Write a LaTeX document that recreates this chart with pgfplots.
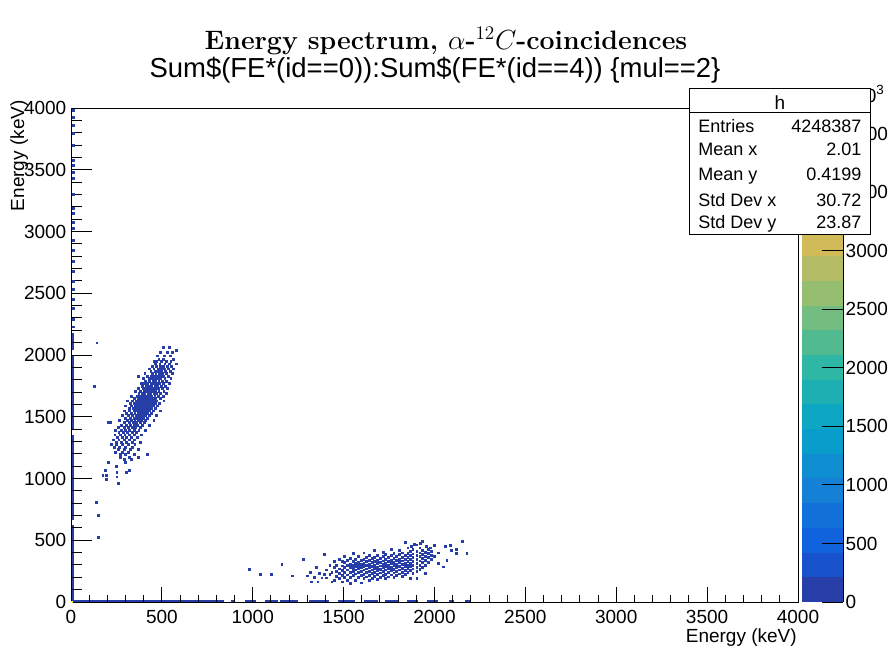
\documentclass[border=0pt]{standalone}
\usepackage{fontspec}
\usepackage{pgfplots}
\pgfplotsset{compat=1.18}
\newfontfamily\arial{Liberation Sans}
\definecolor{b0}{rgb}{0.152,0.240,0.658}
\definecolor{b1}{rgb}{0.091,0.319,0.796}
\definecolor{b2}{rgb}{0.063,0.388,0.863}
\definecolor{b3}{rgb}{0.070,0.443,0.851}
\definecolor{b4}{rgb}{0.078,0.502,0.839}
\definecolor{b5}{rgb}{0.056,0.558,0.820}
\definecolor{b6}{rgb}{0.034,0.615,0.801}
\definecolor{b7}{rgb}{0.052,0.656,0.764}
\definecolor{b8}{rgb}{0.116,0.687,0.703}
\definecolor{b9}{rgb}{0.180,0.718,0.643}
\definecolor{b10}{rgb}{0.323,0.731,0.570}
\definecolor{b11}{rgb}{0.456,0.743,0.504}
\definecolor{b12}{rgb}{0.587,0.746,0.443}
\definecolor{b13}{rgb}{0.705,0.739,0.396}
\definecolor{b14}{rgb}{0.821,0.734,0.348}
\definecolor{b15}{rgb}{0.888,0.754,0.290}
\definecolor{b16}{rgb}{0.961,0.776,0.227}
\definecolor{b17}{rgb}{0.992,0.828,0.166}
\definecolor{b18}{rgb}{0.984,0.909,0.108}
\definecolor{b19}{rgb}{0.976,0.983,0.054}
\newcommand{\lab}{\arial\fontsize{14.25}{17}\selectfont}
\newcommand{\stat}{\arial\fontsize{13.5}{16}\selectfont}
\pgfplotsset{dots/.style={only marks, mark=square*, color=b0, mark size=0.7pt, mark options={line width=0.2pt}}}
\begin{document}
\begin{tikzpicture}
\path[use as bounding box] (0,0) rectangle (669pt,487.5pt);
% main axis
\begin{axis}[
  at={(53.25pt,36pt)}, anchor=south west, scale only axis,
  width=545.25pt, height=370.5pt,
  xmin=0, xmax=4000, ymin=0, ymax=4000,
  xtick={0,500,...,4000}, ytick={0,500,...,4000},
  minor x tick num=4, minor y tick num=4,
  tick align=inside, tick pos=left,
  xtick style={/pgfplots/major tick length=11.25pt, /pgfplots/minor tick length=5.6pt, line width=0.75pt, black},
  ytick style={/pgfplots/major tick length=15.75pt, /pgfplots/minor tick length=7.9pt, line width=0.75pt, black},
  axis line style={line width=0.75pt},
  scaled ticks=false,
  tick label style={font=\lab},
  xticklabel style={yshift=-2.4pt},
  /pgf/number format/assume math mode=true,
  /pgf/number format/1000 sep={},
  axis on top,
]
% strip along the y axis (bins at E_x = 0)
\addplot[b0, line width=1.5pt, unbounded coords=jump] coordinates {
 (12,15)(12,620) (12,nan) (12,660)(12,1350) (12,nan) (12,1390)(12,2000) (12,nan) (12,2040)(12,2180)};
\addplot[dots] coordinates {
 (12,2230)(12,2290)(12,2380)(12,2450)(12,2530)(12,2600)(12,2680)(12,2760)(12,2850)(12,2930)
 (12,3028)(12,3077)(12,3150)(12,3190)(12,3300)(12,3433)(12,3482)(12,3538)(12,3579)(12,3700)
 (12,3798)(12,3862)(12,3927)(12,3984)};
% strip along the x axis (bins at E_y = 0)
\addplot[b0, line width=1.5pt, unbounded coords=jump] coordinates {
 (5,12)(840,12) (nan,12) (880,12)(900,12) (nan,12) (960,12)(1020,12) (nan,12) (1070,12)(1140,12) (nan,12)
 (1150,12)(1250,12) (nan,12) (1310,12)(1420,12) (nan,12) (1470,12)(1560,12) (nan,12) (1610,12)(1690,12) (nan,12)
 (1730,12)(1800,12) (nan,12) (1850,12)(1910,12) (nan,12) (1960,12)(2020,12) (nan,12) (2080,12)(2110,12) (nan,12) (2170,12)(2195,12)};
% cluster 1
\addplot[dots] coordinates {
(141,2100)
(508,2065)(540,2065)
(578,2040)
(490,2020)(530,2020)(557,2020)
(475,1995)(512,1995)(545,1995)
(482,1970)(505,1970)(560,1970)
(455,1950)(470,1950)(498,1950)(525,1950)(548,1950)
(462,1930)(488,1930)(515,1930)(538,1930)(578,1930)
(445,1910)(470,1910)(492,1910)(508,1910)(530,1910)(552,1910)
(428,1890)(455,1890)(478,1890)(495,1890)(512,1890)(535,1890)(560,1890)
(438,1870)(462,1870)(480,1870)(498,1870)(520,1870)(545,1870)
(405,1850)(448,1850)(466,1850)(485,1850)(502,1850)(525,1850)(555,1850)
(367,1830)(420,1830)(440,1830)(458,1830)(472,1830)(490,1830)(508,1830)(535,1830)
(395,1810)(428,1810)(445,1810)(460,1810)(476,1810)(492,1810)(515,1810)(548,1810)
(410,1790)(432,1790)(450,1790)(466,1790)(482,1790)(500,1790)(525,1790)
(385,1770)(402,1770)(420,1770)(438,1770)(452,1770)(468,1770)(485,1770)(505,1770)(540,1770)
(128,1750)(392,1750)(412,1750)(428,1750)(444,1750)(460,1750)(476,1750)(494,1750)(520,1750)
(370,1730)(398,1730)(415,1730)(430,1730)(446,1730)(462,1730)(478,1730)(500,1730)(530,1730)
(355,1710)(380,1710)(400,1710)(418,1710)(434,1710)(450,1710)(466,1710)(482,1710)(510,1710)
(372,1690)(390,1690)(405,1690)(422,1690)(438,1690)(455,1690)(470,1690)(490,1690)(525,1690)
(330,1670)(362,1670)(380,1670)(396,1670)(412,1670)(428,1670)(444,1670)(460,1670)(478,1670)(505,1670)
(345,1650)(368,1650)(385,1650)(400,1650)(416,1650)(432,1650)(448,1650)(465,1650)(492,1650)
(310,1630)(338,1630)(358,1630)(375,1630)(390,1630)(405,1630)(420,1630)(436,1630)(452,1630)(470,1630)(510,1630)
(325,1610)(348,1610)(365,1610)(382,1610)(398,1610)(414,1610)(430,1610)(446,1610)(462,1610)(485,1610)
(300,1590)(330,1590)(352,1590)(370,1590)(386,1590)(402,1590)(418,1590)(434,1590)(452,1590)(475,1590)
(318,1570)(340,1570)(358,1570)(375,1570)(392,1570)(408,1570)(424,1570)(440,1570)(465,1570)
(290,1550)(322,1550)(345,1550)(362,1550)(380,1550)(396,1550)(412,1550)(428,1550)(450,1550)(490,1550)
(305,1530)(332,1530)(350,1530)(368,1530)(385,1530)(400,1530)(418,1530)(440,1530)
(280,1510)(315,1510)(338,1510)(356,1510)(374,1510)(390,1510)(408,1510)(430,1510)(470,1510)
(298,1490)(325,1490)(345,1490)(362,1490)(380,1490)(398,1490)(420,1490)
(265,1470)(310,1470)(330,1470)(350,1470)(368,1470)(385,1470)(410,1470)(455,1470)
(205,1455)(218,1455)(290,1455)(318,1455)(340,1455)(360,1455)(378,1455)(400,1455)
(278,1435)(305,1435)(325,1435)(345,1435)(365,1435)(392,1435)(430,1435)
(260,1415)(290,1415)(312,1415)(335,1415)(355,1415)(380,1415)
(245,1395)(275,1395)(300,1395)(322,1395)(345,1395)(372,1395)(410,1395)
(262,1375)(288,1375)(310,1375)(335,1375)(360,1375)
(240,1355)(270,1355)(295,1355)(320,1355)(348,1355)(388,1355)
(255,1335)(280,1335)(305,1335)(330,1335)(365,1335)
(232,1315)(262,1315)(290,1315)(318,1315)(345,1315)
(248,1295)(275,1295)(305,1295)(338,1295)(380,1295)
(220,1275)(248,1275)(282,1275)(315,1275)(350,1275)
(238,1255)(265,1255)(300,1255)(335,1255)
(258,1235)(290,1235)(325,1235)(370,1235)
(245,1215)(280,1215)(312,1215)
(270,1195)(300,1195)(345,1195)(420,1195)
(270,1175)(318,1175)(370,1175)
(290,1155)(330,1155)
(300,1130)(204,1134)
(248,1100)
(320,1065)(190,1065)
(251,1050)(301,1050)
(174,1025)(191,1025)
(251,1015)
(191,995)
(260,960)
(139,812)(150,704)(150,524)
};
% cluster 2
\addplot[dots] coordinates {
(979,267)(1040,224)(1099,224)(1159,305)(1218,213)(1278,346)(1300,213)(1317,245)(1319,165)(1339,200)(1348,283)(1357,165)(1366,232)(1379,197)
(1394,224)(1394,386)(1405,197)(1405,262)(1423,224)(1423,300)(1434,245)(1434,165)
(1447,180)(1447,280)(1447,330)
(1460,210)(1460,250)(1460,300)
(1475,190)(1475,232)(1475,270)(1475,345)
(1490,165)(1490,215)(1490,255)(1490,295)(1490,330)
(1505,200)(1505,240)(1505,280)(1505,320)(1505,370)
(1520,180)(1520,222)(1520,262)(1520,300)(1520,340)
(1535,155)(1535,200)(1535,240)(1535,282)(1535,310)(1535,355)
(1550,215)(1550,250)(1550,275)(1550,300)(1550,330)(1550,395)
(1565,180)(1565,230)(1565,262)(1565,288)(1565,318)(1565,350)
(1580,200)(1580,240)(1580,272)(1580,296)(1580,325)(1580,370)
(1596,157)(1596,215)(1596,250)(1596,282)(1596,308)(1596,340)
(1610,190)(1610,228)(1610,262)(1610,290)(1610,315)(1610,350)(1610,400)
(1625,205)(1625,240)(1625,270)(1625,300)(1625,328)(1625,362)
(1640,175)(1640,220)(1640,252)(1640,282)(1640,310)(1640,340)(1640,380)
(1655,195)(1655,232)(1655,262)(1655,290)(1655,320)(1655,355)
(1670,210)(1670,245)(1670,275)(1670,300)(1670,330)(1670,365)(1670,420)
(1685,185)(1685,225)(1685,258)(1685,285)(1685,312)(1685,342)(1685,380)
(1700,200)(1700,238)(1700,268)(1700,295)(1700,322)(1700,352)
(1715,215)(1715,250)(1715,280)(1715,305)(1715,335)(1715,370)(1715,405)
(1730,190)(1730,228)(1730,262)(1730,290)(1730,318)(1730,348)(1730,385)
(1745,205)(1745,242)(1745,272)(1745,300)(1745,330)(1745,360)
(1760,222)(1760,255)(1760,285)(1760,312)(1760,342)(1760,378)(1760,430)
(1775,200)(1775,238)(1775,268)(1775,296)(1775,325)(1775,355)(1775,395)
(1790,215)(1790,250)(1790,280)(1790,308)(1790,338)(1790,370)
(1805,230)(1805,262)(1805,292)(1805,320)(1805,350)(1805,385)(1805,420)
(1820,210)(1820,245)(1820,275)(1820,305)(1820,335)(1820,365)(1820,400)
(1838,225)(1838,260)(1838,290)(1838,318)(1838,348)(1838,380)(1838,483)
(1852,240)(1852,272)(1852,302)(1852,332)(1852,362)(1852,395)(1852,440)
(1865,195)(1865,255)(1865,288)(1865,318)(1865,345)(1865,378)(1865,415)
(1880,235)(1880,270)(1880,300)(1880,330)(1880,360)(1880,392)(1880,430)
(1902,192)(1902,250)(1902,285)(1902,318)(1902,350)(1902,380)(1902,410)(1902,465)
(1918,265)(1918,300)(1918,335)(1918,368)(1918,400)(1918,440)
(1933,280)(1933,320)(1933,355)(1933,385)(1933,420)(1933,494)
(1948,232)(1948,300)(1948,340)(1948,372)(1948,405)
(1965,320)(1965,360)(1965,395)(1965,425)
(1980,345)(1980,380)(1980,412)(1975,440)
(1997,370)(1997,462)
(2019,318)(2019,400)(2049,286)(2058,453)(2067,340)(2085,462)(2091,421)(2118,427)(2118,394)(2150,494)(2177,394)
(1870,455)(1890,470)(1920,480)(1955,450)
};
% maximum bin at the origin
\addplot[only marks, mark=square*, color=b19, mark size=0.4pt] coordinates {(5,5)};
\end{axis}
% palette
\begin{axis}[
  at={(601.5pt,36pt)}, anchor=south west, scale only axis,
  width=30.75pt, height=370.5pt,
  xmin=0, xmax=1, ymin=0, ymax=4220,
  axis x line=none, axis y line*=right,
  ytick={0,500,...,4000}, minor y tick num=0,
  tick align=inside,
  major tick length=15.75pt,
  ytick style={line width=0.75pt, black},
  axis line style={line width=0.75pt},
  scaled ticks=false,
  yticklabel style={font=\lab, anchor=west, xshift=-1.5pt},
  /pgf/number format/assume math mode=true,
  /pgf/number format/1000 sep={},
  axis on top,
]
\addplot[fill=b19, draw=none] coordinates {(0,4220)(1,4220)} \closedcycle;
\addplot[fill=b18, draw=none] coordinates {(0,4009)(1,4009)} \closedcycle;
\addplot[fill=b17, draw=none] coordinates {(0,3798)(1,3798)} \closedcycle;
\addplot[fill=b16, draw=none] coordinates {(0,3587)(1,3587)} \closedcycle;
\addplot[fill=b15, draw=none] coordinates {(0,3376)(1,3376)} \closedcycle;
\addplot[fill=b14, draw=none] coordinates {(0,3165)(1,3165)} \closedcycle;
\addplot[fill=b13, draw=none] coordinates {(0,2954)(1,2954)} \closedcycle;
\addplot[fill=b12, draw=none] coordinates {(0,2743)(1,2743)} \closedcycle;
\addplot[fill=b11, draw=none] coordinates {(0,2532)(1,2532)} \closedcycle;
\addplot[fill=b10, draw=none] coordinates {(0,2321)(1,2321)} \closedcycle;
\addplot[fill=b9, draw=none] coordinates {(0,2110)(1,2110)} \closedcycle;
\addplot[fill=b8, draw=none] coordinates {(0,1899)(1,1899)} \closedcycle;
\addplot[fill=b7, draw=none] coordinates {(0,1688)(1,1688)} \closedcycle;
\addplot[fill=b6, draw=none] coordinates {(0,1477)(1,1477)} \closedcycle;
\addplot[fill=b5, draw=none] coordinates {(0,1266)(1,1266)} \closedcycle;
\addplot[fill=b4, draw=none] coordinates {(0,1055)(1,1055)} \closedcycle;
\addplot[fill=b3, draw=none] coordinates {(0,844)(1,844)} \closedcycle;
\addplot[fill=b2, draw=none] coordinates {(0,633)(1,633)} \closedcycle;
\addplot[fill=b1, draw=none] coordinates {(0,422)(1,422)} \closedcycle;
\addplot[fill=b0, draw=none] coordinates {(0,211)(1,211)} \closedcycle;
\end{axis}
\begin{scope}[x=0.75pt,y=0.75pt]
% titles
\node[anchor=base, inner sep=0] at (446,600) {\fontsize{20}{24}\selectfont\bfseries Energy spectrum, $\alpha$-$^{12}C$-coincidences};
\node[anchor=base, inner sep=0] at (435,572) {\arial\fontsize{20.6}{24}\selectfont Sum\$(FE*(id==0)):Sum\$(FE*(id==4)) \{mul==2\}};
% exponent of the palette axis
\node[anchor=base east, inner sep=0] at (884,547) {\lab $\times$10\raisebox{0.45em}{\fontsize{10}{12}\selectfont 3}};
% axis titles
\node[anchor=base east, inner sep=0] at (797,8) {\lab Energy (keV)};
\node[anchor=base east, inner sep=0, rotate=90] at (24,550) {\lab Energy (keV)};
% statistics box
\filldraw[fill=white, draw=black, line width=0.75pt] (689.3,415) rectangle (870.7,561.7);
\draw[line width=0.75pt] (689.3,537.7) -- (870.7,537.7);
\node[anchor=base, inner sep=0] at (780,540.5) {\lab h};
\node[anchor=base west, inner sep=0] at (698,517.3) {\stat Entries};
\node[anchor=base east, inner sep=0] at (861.7,517.3) {\stat 4248387};
\node[anchor=base west, inner sep=0] at (698,494) {\stat Mean x};
\node[anchor=base east, inner sep=0] at (861.7,494) {\stat 2.01};
\node[anchor=base west, inner sep=0] at (698,469.5) {\stat Mean y};
\node[anchor=base east, inner sep=0] at (861.7,469.5) {\stat 0.4199};
\node[anchor=base west, inner sep=0] at (698,443.5) {\stat Std Dev x};
\node[anchor=base east, inner sep=0] at (861.7,443.5) {\stat 30.72};
\node[anchor=base west, inner sep=0] at (698,421.5) {\stat Std Dev y};
\node[anchor=base east, inner sep=0] at (861.7,421.5) {\stat 23.87};
\end{scope}
\end{tikzpicture}
\end{document}
